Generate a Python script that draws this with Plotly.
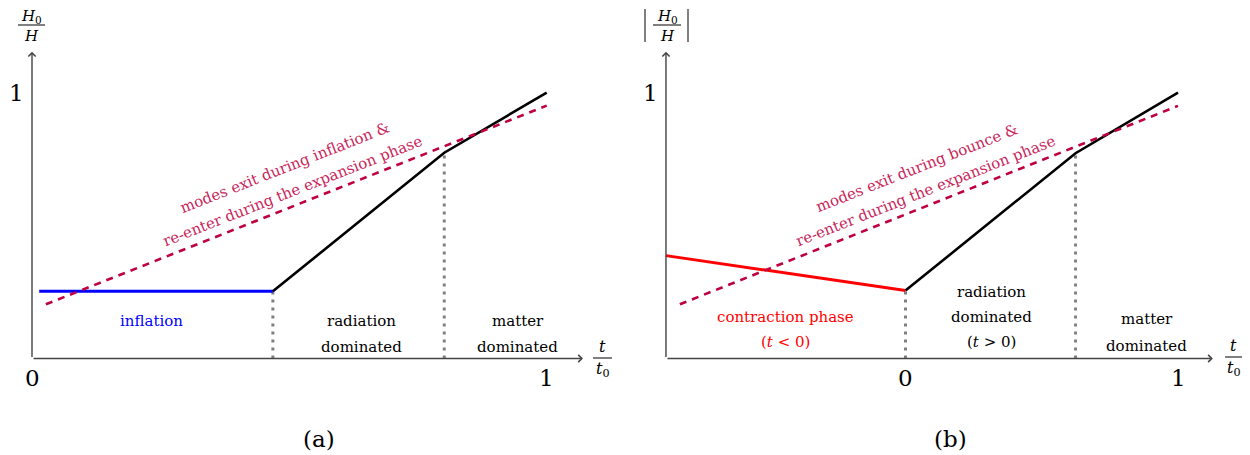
import plotly.graph_objects as go

# ---------------- data (t/t0 , H0/H) ----------------
# panel (a)
a_infl_t = [0.014, 0.468]
a_infl_h = [0.254, 0.254]
a_exp_t = [0.468, 0.801, 1.0]
a_exp_h = [0.254, 0.778, 1.005]
a_hor_t = [0.027, 1.0]
a_hor_h = [0.205, 0.956]
a_trans_t = [0.468, 0.801]
a_trans_h = [0.254, 0.778]
a_ticks = ["0", "1"]

# panel (b)
b_con_t = [-0.879, 0.0]
b_con_h = [0.389, 0.257]
b_exp_t = [0.0, 0.624, 1.0]
b_exp_h = [0.257, 0.776, 1.005]
b_hor_t = [-0.828, 1.0]
b_hor_h = [0.205, 0.955]
b_trans_t = [0.0, 0.624]
b_trans_h = [0.257, 0.776]
b_ticks = ["0", "1"]

# ---------------- page geometry ----------------
PAGE_W, PAGE_H = 1250, 455
OFF = 8                      # default body margin of the html page
W, H = PAGE_W - OFF, PAGE_H - OFF
SERIF = "DejaVu Serif"
PURPLE = "#BF0040"
LABEL_PURPLE = "#C8245A"
GRAY = "#808080"
AXC = "#444444"
LBL = 15          # small region labels
ROT = 15          # rotated labels
BIG = 23          # tick numbers / captions
FRAC = 15         # fraction labels


def px(x):
    return (x - OFF) / W


def py(y):
    return 1 - (y - OFF) / H


def axis_range(p_lo, p_hi, p_zero, scale):
    return [(p_lo - p_zero) / scale, (p_hi - p_zero) / scale]


def yaxis_range(p_zero, scale):
    return [(p_zero - (OFF + H)) / scale, (p_zero - OFF) / scale]


def dotted(ts, hs):
    xs, ys = [], []
    for t, h in zip(ts, hs):
        xs += [t, t, None]
        ys += [0, h, None]
    return xs, ys


fig = go.Figure()

for xr, yr, trans_t, trans_h, first_t, first_h, first_col, exp_t, exp_h, hor_t, hor_h in [
    ("x", "y", a_trans_t, a_trans_h, a_infl_t, a_infl_h, "#0000FF", a_exp_t, a_exp_h, a_hor_t, a_hor_h),
    ("x2", "y2", b_trans_t, b_trans_h, b_con_t, b_con_h, "#FF0000", b_exp_t, b_exp_h, b_hor_t, b_hor_h),
]:
    dx, dy = dotted(trans_t, trans_h)
    fig.add_trace(go.Scatter(x=dx, y=dy, mode="lines", xaxis=xr, yaxis=yr,
                             line=dict(color=GRAY, width=3, dash="3px,5px"), hoverinfo="skip"))
    fig.add_trace(go.Scatter(x=first_t, y=first_h, mode="lines", xaxis=xr, yaxis=yr,
                             line=dict(color=first_col, width=3), hoverinfo="skip"))
    fig.add_trace(go.Scatter(x=exp_t, y=exp_h, mode="lines", xaxis=xr, yaxis=yr,
                             line=dict(color="black", width=2.6), hoverinfo="skip"))
    fig.add_trace(go.Scatter(x=hor_t, y=hor_h, mode="lines", xaxis=xr, yaxis=yr,
                             line=dict(color=PURPLE, width=2.6, dash="7px,6px"), hoverinfo="skip"))

ann = []


def arrow(xr, yr, x0, y0, x1, y1):
    ann.append(dict(x=x1, y=y1, ax=x0, ay=y0, xref=xr, yref=yr, axref=xr, ayref=yr,
                    showarrow=True, arrowhead=4, arrowsize=1, arrowwidth=1.4,
                    arrowcolor=AXC, standoff=0, text=""))


def txt(xr, yr, x, y, s, size=LBL, color="black", angle=0):
    ann.append(dict(x=x, y=y, xref=xr, yref=yr, text=s, showarrow=False, textangle=angle,
                    font=dict(family=SERIF, size=size, color=color),
                    xanchor="center", yanchor="middle"))


def ptxt(x, y, s, size=FRAC):
    ann.append(dict(x=px(x), y=py(y), xref="paper", yref="paper", text=s, showarrow=False,
                    font=dict(family=SERIF, size=size, color="black"),
                    xanchor="center", yanchor="middle"))


# axes panel (a)
arrow("x", "y", 0, 0, 1.0705, 0)
arrow("x", "y", 0, 0, 0, 1.160)
# axes panel (b)
arrow("x2", "y2", b_con_t[0], 0, 1.128, 0)
arrow("x2", "y2", b_con_t[0], 0, b_con_t[0], 1.160)

# tick labels
txt("x", "y", 0, -0.074, a_ticks[0], size=BIG)
txt("x", "y", 1.0, -0.074, a_ticks[1], size=BIG)
txt("x", "y", -0.030, 1.004, "1", size=BIG)
txt("x2", "y2", 0, -0.074, b_ticks[0], size=BIG)
txt("x2", "y2", 1.0, -0.074, b_ticks[1], size=BIG)
txt("x2", "y2", -0.9376, 1.004, "1", size=BIG)

# region labels panel (a)
txt("x", "y", 0.2326, 0.143, "inflation", color="#0000FF")
txt("x", "y", 0.641, 0.143, "radiation")
txt("x", "y", 0.641, 0.0446, "dominated")
txt("x", "y", 0.944, 0.143, "matter")
txt("x", "y", 0.944, 0.0446, "dominated")
txt("x", "y", 0.4896, 0.722, "modes exit during inflation &amp;", size=ROT, color=LABEL_PURPLE, angle=-21.5)
txt("x", "y", 0.507, 0.633, "re-enter during the expansion phase", size=ROT, color=LABEL_PURPLE, angle=-21.5)

# region labels panel (b)
txt("x2", "y2", -0.440, 0.156, "contraction phase", color="#FF0000")
txt("x2", "y2", -0.440, 0.0635, "(<i>t</i> &lt; 0)", color="#FF0000")
txt("x2", "y2", 0.314, 0.2526, "radiation")
txt("x2", "y2", 0.314, 0.158, "dominated")
txt("x2", "y2", 0.314, 0.0635, "(<i>t</i> &gt; 0)")
txt("x2", "y2", 0.886, 0.148, "matter")
txt("x2", "y2", 0.886, 0.047, "dominated")
txt("x2", "y2", 0.042, 0.722, "modes exit during bounce &amp;", size=ROT, color=LABEL_PURPLE, angle=-21.5)
txt("x2", "y2", 0.074, 0.633, "re-enter during the expansion phase", size=ROT, color=LABEL_PURPLE, angle=-21.5)

# axis titles (fractions)
ptxt(31.7, 17, "<i>H</i><sub>0</sub>")
ptxt(31.7, 35.5, "<i>H</i>")
ptxt(667, 17, "<i>H</i><sub>0</sub>")
ptxt(667, 35.5, "<i>H</i>")
ptxt(602.5, 346, "<i>t</i>", 16)
ptxt(602.5, 369, "<i>t</i><sub>0</sub>", 16)
ptxt(1233.5, 345, "<i>t</i>", 16)
ptxt(1233.5, 368, "<i>t</i><sub>0</sub>", 16)

# captions
ptxt(319, 439, "(a)", BIG)
ptxt(950, 439, "(b)", BIG)

shapes = []


def pline(x0, y0, x1, y1, w=1.0):
    shapes.append(dict(type="line", xref="paper", yref="paper", x0=px(x0), y0=py(y0),
                       x1=px(x1), y1=py(y1), line=dict(color="black", width=w)))


pline(18, 25, 45, 25)
pline(653, 25, 681, 25)
pline(645, 9, 645, 42)
pline(688, 9, 688, 42)
pline(593, 358, 612, 358)
pline(1225, 357, 1242, 357)

# pixel anchors: panel (a) t=0 at x=32, t=1 at x=546.7 ; panel (b) t=0 at 905.5, t=1 at 1178
# H0/H = 0 at y=358.5, 1 at y=94
YS = 264.5
SPLIT = 625  # page x where the two panels meet
D = (SPLIT - OFF) / W
fig.update_layout(
    width=W, height=H,
    margin=dict(l=0, r=0, t=0, b=0),
    paper_bgcolor="white", plot_bgcolor="white",
    showlegend=False,
    xaxis=dict(domain=[0, D], range=axis_range(OFF, SPLIT, 32, 514.7), visible=False, fixedrange=True),
    yaxis=dict(domain=[0, 1], range=yaxis_range(358.5, YS), visible=False, fixedrange=True),
    xaxis2=dict(domain=[D, 1], range=axis_range(SPLIT, OFF + W, 905.5, 272.5), visible=False,
                fixedrange=True, anchor="y2"),
    yaxis2=dict(domain=[0, 1], range=yaxis_range(358.5, YS), visible=False, fixedrange=True, anchor="x2"),
    annotations=ann,
    shapes=shapes,
)

fig.write_html("out.html")
